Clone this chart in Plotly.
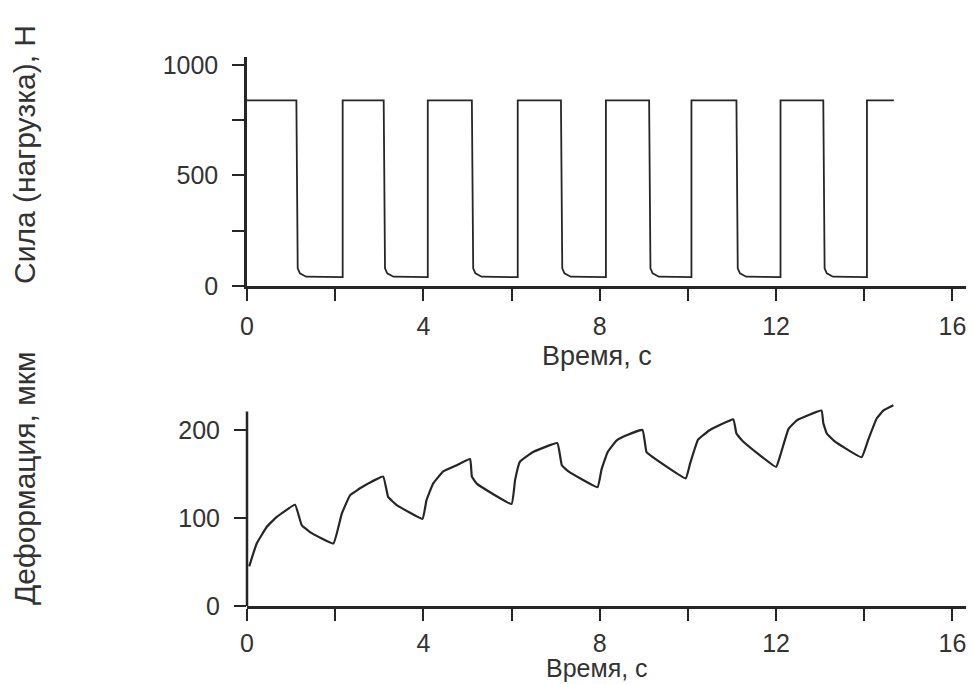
import plotly.graph_objects as go
from plotly.subplots import make_subplots

# ---- data ----
# Force (load), N: square wave
force_high = 840
force_low = 40
fall_times = [1.12, 3.10, 5.10, 7.12, 9.12, 11.10, 13.07]
rise_times = [2.17, 4.10, 6.14, 8.14, 10.08, 12.10, 14.06]
force_end_time = 14.67
# rounded lower corner after each drop: (dt after fall, force)
corner_dt = [0.03, 0.08, 0.22]
corner_force = [80, 57, 42]

# Deformation, um
t_def = [0.05, 0.22, 0.45, 0.67, 1.09, 1.24, 1.43, 1.96,
         2.15, 2.34, 2.64, 3.09, 3.20, 3.39, 3.98,
         4.07, 4.22, 4.45, 4.76, 5.06, 5.10, 5.21, 6.00,
         6.08, 6.19, 6.49, 7.04, 7.14, 7.29, 7.95,
         8.04, 8.18, 8.38, 8.61, 8.97, 9.06, 9.18, 9.95,
         10.05, 10.23, 10.50, 11.03, 11.10, 11.25, 12.00,
         12.10, 12.28, 12.47, 13.03, 13.07, 13.15, 13.33, 13.94,
         14.09, 14.28, 14.43, 14.66]
deform = [45, 71, 90, 101, 115, 92, 84, 71,
          105, 126, 136, 147, 124, 115, 99,
          120, 139, 153, 160, 167, 147, 139, 116,
          143, 164, 175, 185, 160, 153, 135,
          155, 175, 188, 194, 200, 175, 170, 145,
          162, 189, 200, 212, 196, 187, 158,
          172, 201, 211, 222, 208, 196, 187, 169,
          189, 213, 222, 228]

x_tickvals = [0, 2, 4, 6, 8, 10, 12, 14, 16]
x_ticktext = ["0", "", "4", "", "8", "", "12", "", "16"]
f_tickvals = [0, 250, 500, 750, 1000]
f_ticktext = ["0", "", "500", "", "1000"]
d_tickvals = [0, 100, 200]
d_ticktext = ["0", "100", "200"]

x_title = "Время, с"
force_title = "Сила (нагрузка), Н"
deform_title = "Деформация, мкм"

# ---- build force polyline from the read edge times ----
tf, ff = [0.0], [force_high]
for fa, ri in zip(fall_times, rise_times):
    tf += [fa]
    ff += [force_high]
    for dt, fv in zip(corner_dt, corner_force):
        tf.append(fa + dt)
        ff.append(fv)
    tf += [ri, ri]
    ff += [force_low, force_high]
tf.append(force_end_time)
ff.append(force_high)

ink = "#262626"
font = "Liberation Sans, Arial, sans-serif"

fig = make_subplots(rows=2, cols=1)
fig.add_trace(go.Scatter(x=tf, y=ff, mode="lines",
                         line=dict(color=ink, width=1.8), showlegend=False),
              row=1, col=1)
fig.add_trace(go.Scatter(x=t_def, y=deform, mode="lines",
                         line=dict(color=ink, width=2.2, shape="spline", smoothing=0.3),
                         showlegend=False),
              row=2, col=1)

axis_common = dict(linecolor=ink, linewidth=2.5, ticks="outside", automargin=False,
                   ticklen=12, tickwidth=2.2, tickcolor=ink, showgrid=False,
                   zeroline=False, tickfont=dict(family=font, size=25, color="#333"))

fig.update_xaxes(range=[0, 16.42], tickmode="array", tickvals=x_tickvals,
                 ticktext=x_ticktext, ticklabelstandoff=4, showline=True, **axis_common)
fig.update_xaxes(ticklabelstandoff=1, row=2, col=1)
fig.update_yaxes(**axis_common, ticklabelstandoff=9)
fig.update_yaxes(range=[0, 1036], tickmode="array", tickvals=f_tickvals, showline=True,
                 ticktext=f_ticktext, domain=[0.5829, 1.0], row=1, col=1)
# bottom panel: axis line drawn as a shape up to 221 so the curve may rise above it
fig.update_yaxes(range=[0, 230], tickmode="array", tickvals=d_tickvals, showline=False,
                 ticktext=d_ticktext, domain=[0.0, 0.3687], row=2, col=1)
fig.add_shape(type="line", xref="x2 domain", yref="y2", x0=0, x1=0, y0=0, y1=221,
              line=dict(color=ink, width=2.5), layer="above")

# the page body has an 8px margin, so the figure is sized/offset to compensate
ann_font = dict(family=font, color="#333")
fig.update_layout(
    width=966, height=676,
    margin=dict(l=239, r=3, t=49, b=78),
    plot_bgcolor="white", paper_bgcolor="white",
    annotations=[
        dict(text=x_title, xref="paper", yref="paper", x=0.484, y=(606 - 356) / 549,
             xanchor="center", yanchor="middle", showarrow=False,
             font=dict(size=27, **ann_font)),
        dict(text=x_title, xref="paper", yref="paper", x=0.484, y=(606 - 668) / 549,
             xanchor="center", yanchor="middle", showarrow=False,
             font=dict(size=25, **ann_font)),
        dict(text=force_title, xref="paper", yref="paper", x=(24 - 247) / 724,
             y=(606 - 155) / 549, xanchor="center", yanchor="middle",
             textangle=-90, showarrow=False, font=dict(size=30, **ann_font)),
        dict(text=deform_title, xref="paper", yref="paper", x=(24 - 247) / 724,
             y=(606 - 478) / 549, xanchor="center", yanchor="middle",
             textangle=-90, showarrow=False, font=dict(size=30, **ann_font)),
    ],
)

fig.write_html("out.html")
